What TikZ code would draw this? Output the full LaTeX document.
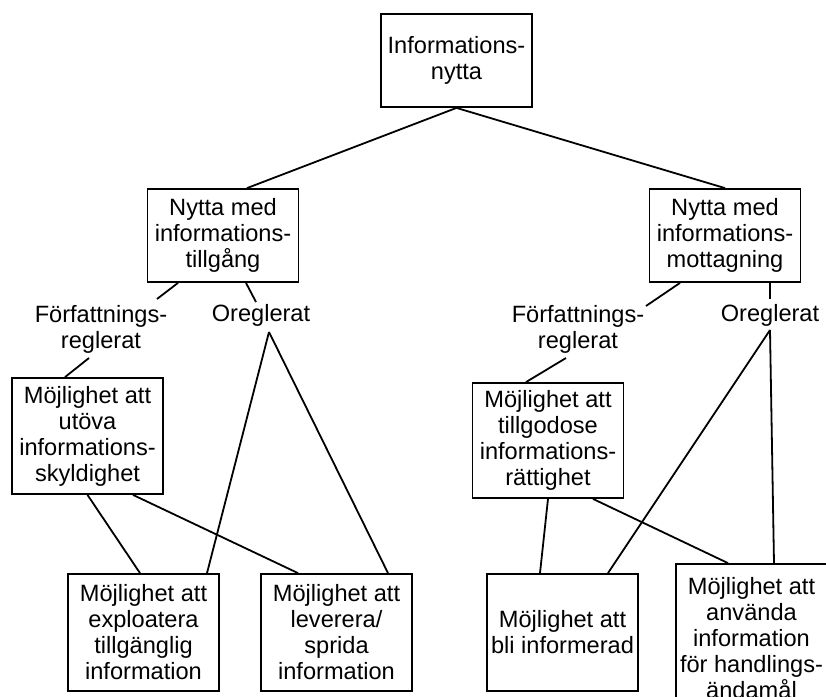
\documentclass[tikz,border=0pt]{standalone}
\usepackage{fontspec}
\setmainfont{Liberation Sans}
\usetikzlibrary{calc}
\begin{document}
\begin{tikzpicture}[
    x=0.5pt, y=-0.5pt,
    box/.style={draw, line width=0.9pt, align=center, inner sep=1pt, minimum width=75.5pt, font=\fontsize{11.8}{13}\selectfont},
    lbl/.style={align=center, inner sep=0pt, font=\fontsize{11.8}{13}\selectfont},
    edge/.style={line width=0.9pt},
]
\useasboundingbox (0,0) rectangle (826,697);
\node[box, minimum height=46.5pt] (top) at (456.5,60.5) {Informations-\\nytta};
\node[box, minimum height=46.5pt] (L1) at (223,235.5) {Nytta med\\informations-\\tillgång};
\node[box, minimum height=46.5pt] (R1) at (725,235.5) {Nytta med\\informations-\\mottagning};
\node[lbl] (FL) at (101,329) {Författnings-\\reglerat};
\node[lbl] (OL) at (261,315) {Oreglerat};
\node[lbl] (FR) at (578,329) {Författnings-\\reglerat};
\node[lbl] (OR) at (770,315) {Oreglerat};
\node[box, minimum height=58pt] (U) at (87.5,436) {Möjlighet att\\utöva\\informations-\\skyldighet};
\node[box, minimum height=57.5pt] (T) at (548,440.5) {Möjlighet att\\tillgodose\\informations-\\rättighet};
\node[box, minimum height=58.5pt] (E) at (143.5,632.5) {Möjlighet att\\exploatera\\tillgänglig\\information};
\node[box, minimum height=58.5pt] (V) at (336.5,632.5) {Möjlighet att\\leverera/\\sprida\\information};
\node[box, minimum height=58.5pt] (B) at (562.5,632.5) {Möjlighet att\\bli informerad};
\node[box, minimum height=74pt] (A) at (751.5,638) {Möjlighet att\\använda\\information\\för handlings-\\ändamål};
\draw[edge] (top.south) -- ($(L1.north)+(24,0)$);
\draw[edge] (top.south) -- (R1.north);
\draw[edge] ($(L1.south)+(-45,0)$) -- ($(FL.center)+(56,-30)$);
\draw[edge] ($(L1.south)+(23,0)$) -- ($(OL.center)+(-5,-13)$);
\draw[edge] ($(FL.center)+(-12,29)$) -- ($(U.north)+(-22.5,0)$);
\draw[edge] (U.south) -- ($(E.north)+(-3.5,0)$);
\draw[edge] ($(U.south)+(45.5,0)$) -- ($(V.north)+(-38.5,0)$);
\draw[edge] ($(OL.center)+(8,17)$) -- ($(E.north)+(63.5,0)$);
\draw[edge] ($(OL.center)+(8,17)$) -- ($(V.north)+(51.5,0)$);
\draw[edge] ($(R1.south)+(-45,0)$) -- ($(FR.center)+(68,-23)$);
\draw[edge] ($(R1.south)+(45,0)$) -- ($(OR.center)+(0,-16)$);
\draw[edge] ($(FR.center)+(-12,29)$) -- ($(T.north)+(-22,0)$);
\draw[edge] (T.south) -- ($(B.north)+(-22.5,0)$);
\draw[edge] ($(T.south)+(45,0)$) -- ($(A.north)+(-23.5,0)$);
\draw[edge] ($(OR.center)+(0,15)$) -- ($(B.north)+(45.5,0)$);
\draw[edge] ($(OR.center)+(0,15)$) -- ($(A.north)+(22.5,0)$);
\end{tikzpicture}
\end{document}
